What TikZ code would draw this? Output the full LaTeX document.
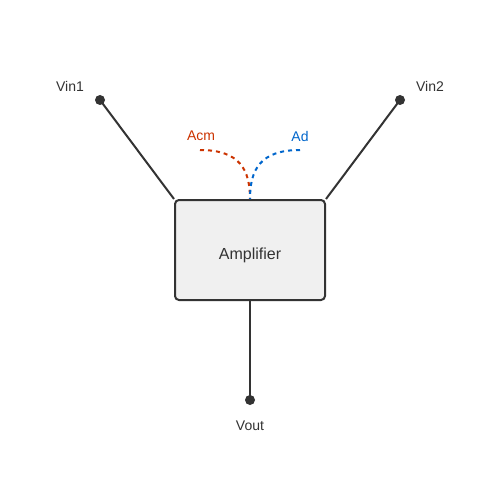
\documentclass[tikz,border=0pt]{standalone}
\usepackage{fontspec}
\setmainfont{Liberation Sans}
\definecolor{ink}{HTML}{333333}
\definecolor{boxfill}{HTML}{F0F0F0}
\definecolor{cmred}{HTML}{CC3300}
\definecolor{adblue}{HTML}{0066CC}
\begin{document}
\begin{tikzpicture}[x=1pt,y=-1pt,
  wire/.style={draw=ink,line width=2pt},
  term/.style={circle,fill=ink,inner sep=0pt,minimum size=10pt},
  lbl/.style={text=ink,font=\fontsize{14}{16}\selectfont},
  ampbox/.style={draw=ink,fill=boxfill,line width=2pt,rounded corners=4pt,minimum width=150pt,minimum height=100pt},
  amptext/.style={text=ink,font=\fontsize{16}{19}\selectfont},
  gain/.style={line width=2pt,dash pattern=on 4pt off 4pt}]
\useasboundingbox (0,0) rectangle (500,500);
\fill[white] (0,0) rectangle (500,500);
\node[ampbox] (amp) at (250,250) {};
\node[amptext] (amplbl) at (250,255) {Amplifier};
\node[term] (v1) at (100,100) {};
\node[term] (v2) at (400,100) {};
\node[term] (vo) at (250,400) {};
\node[lbl] (l1) at (70,86) {Vin1};
\node[lbl] (l2) at (430,86) {Vin2};
\node[lbl] (lo) at (250,426) {Vout};
\node[lbl,text=cmred] (lacm) at (201,136) {Acm};
\node[lbl,text=adblue] (lad) at (300,136) {Ad};
\coordinate (cs) at (200,150);
\coordinate (ds) at (300,150);
\draw[wire] (amp.north west) -- (v1.center);
\draw[wire] (amp.north east) -- (v2.center);
\draw[wire] (amp.south) -- (vo.center);
\draw[gain,draw=cmred] (cs) .. controls (240,150) and (250,170) .. (amp.north);
\draw[gain,draw=adblue] (ds) .. controls (260,150) and (250,170) .. (amp.north);
\end{tikzpicture}
\end{document}
